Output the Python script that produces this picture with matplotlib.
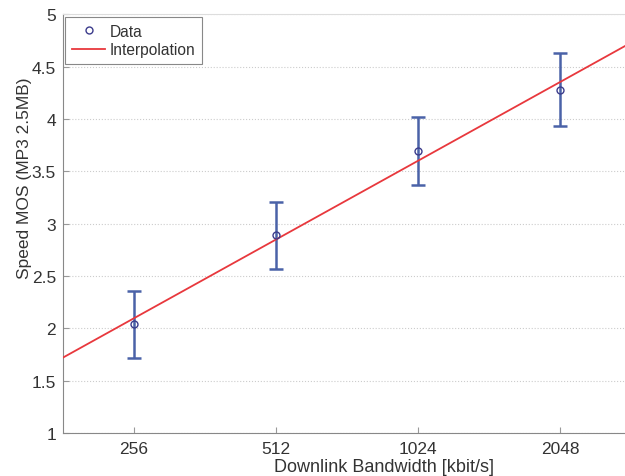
import numpy as np
from matplotlib import pyplot as plt

plt.rcParams['font.family'] = ['Liberation Sans', 'DejaVu Sans']

bandwidth = [256, 512, 1024, 2048]
mos = [2.04, 2.89, 3.69, 4.28]
err_low = [0.32, 0.32, 0.32, 0.35]
err_high = [0.32, 0.32, 0.33, 0.35]
x_ticks = [256, 512, 1024, 2048]
y_ticks = [1, 1.5, 2, 2.5, 3, 3.5, 4, 4.5, 5]

fig = plt.figure(figsize=(6.25, 4.77), dpi=100)
ax = fig.add_axes([0.1008, 0.090, 0.909, 0.878])

# linear fit in log2 of the bandwidth
lx = np.log2(bandwidth)
slope, icpt = np.polyfit(lx, mos, 1)
xs = np.array([7.5, 11.5])
ax.plot(2 ** xs, icpt + slope * xs, color='#e8383d', lw=1.3, label='Interpolation', zorder=3)

ax.errorbar(bandwidth, mos, yerr=[err_low, err_high], fmt='none', ecolor='#4a62a8',
            elinewidth=1.8, capsize=5, capthick=1.8, zorder=2)
ax.plot(bandwidth, mos, 'o', mfc='none', mec='#3c3c8c', ms=5, mew=1.0,
        label='Data', zorder=4)

ax.set_xscale('log', base=2)
ax.set_xlim(2 ** 7.5, 2 ** 11.5)
ax.set_ylim(1, 5)
ax.set_xticks(x_ticks)
ax.set_xticklabels([str(v) for v in x_ticks])
ax.minorticks_off()
ax.set_yticks(y_ticks)
ax.set_yticklabels(['1', '1.5', '2', '2.5', '3', '3.5', '4', '4.5', '5'])
ax.tick_params(direction='in', length=4, labelsize=12.5, labelcolor='#333333', pad=5)
ax.tick_params(axis='x', pad=6)
ax.tick_params(axis='both', color='#999999')
ax.grid(axis='y', ls=':', color='#cccccc', lw=0.8)

for s in ['left', 'bottom']:
    ax.spines[s].set_color('#888888')
ax.spines['top'].set_color('#dddddd')
ax.spines['right'].set_visible(False)

# the original axes run past the cropped figure, so labels sit off-centre
ax.set_xlabel('Downlink Bandwidth [kbit/s]', fontsize=13, color='#333333')
ax.xaxis.set_label_coords(0.565, -0.059)
ax.set_ylabel('Speed MOS (MP3 2.5MB)', fontsize=12.5, color='#333333')
ax.yaxis.set_label_coords(-0.055, 0.611)

handles, labels = ax.get_legend_handles_labels()
leg = ax.legend(handles[::-1], labels[::-1], loc='upper left', fontsize=11.2,
                fancybox=False, edgecolor='#888888', framealpha=1,
                borderpad=0.45, handlelength=2.1, handletextpad=0.28,
                labelspacing=0.25, borderaxespad=0.15)
leg.get_frame().set_linewidth(0.8)
for t in leg.get_texts():
    t.set_color('#333333')

fig.savefig('out.png', dpi=100)
